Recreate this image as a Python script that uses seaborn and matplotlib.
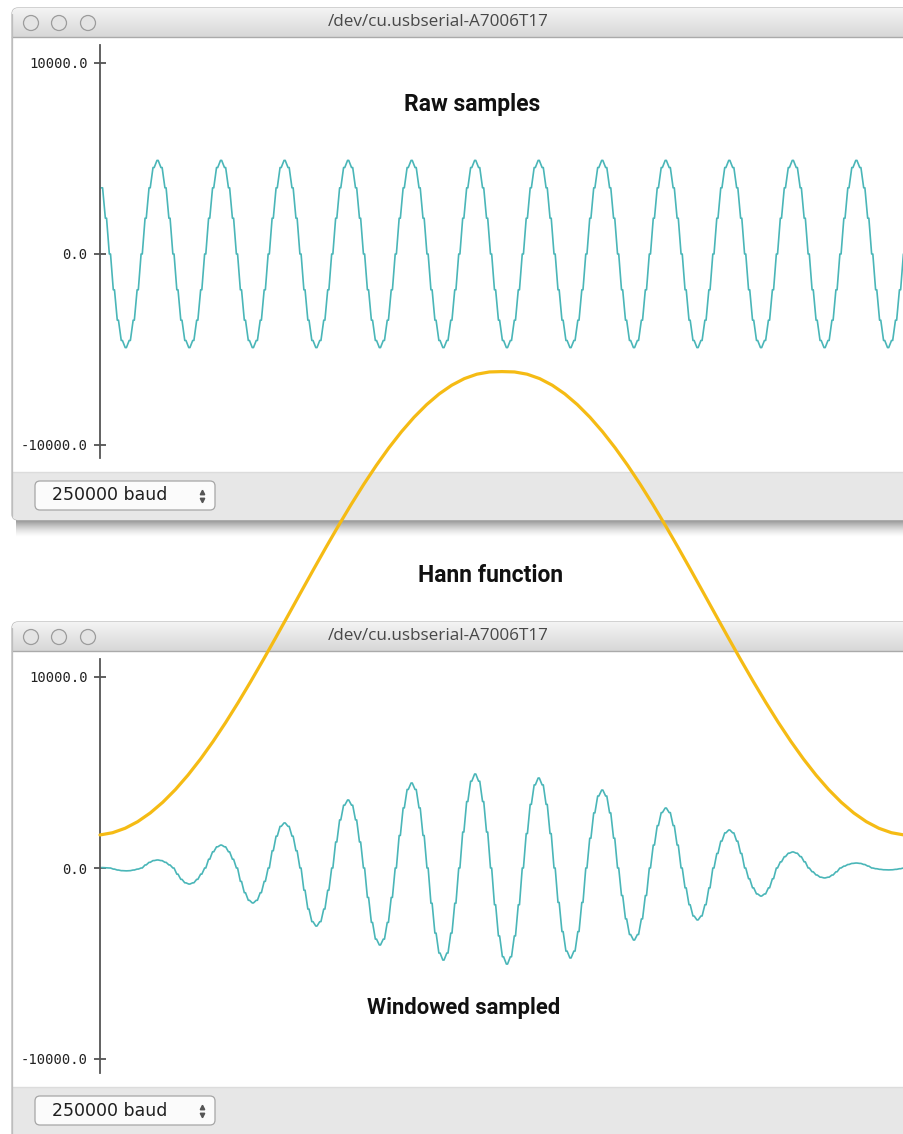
import matplotlib
matplotlib.use('Agg')
import matplotlib.pyplot as plt
from matplotlib.patches import FancyBboxPatch, Rectangle, Circle
import numpy as np
import pandas as pd
import seaborn as sns

# one period of the raw ADC signal (16 samples)
raw_cycle = [3465, 1875, 0, -1875, -3465, -4527, -4900, -4527,
             -3465, -1875, 0, 1875, 3465, 4527, 4900, 4527]
raw_amplitude = 4900
n_samples = 203

# height of each half wave of the windowed trace (bottom window)
windowed_peaks = [30, 150, 420, 840, 1200, 1830, 2360, 3040, 3560, 4030, 4450, 4820, 4920, 5030,
                  4710, 4710, 4080, 3770, 3140, 2720, 1990, 1470, 840, 520, 260, 100, 30]

# Hann window overlay, in bottom-plot units, left half (symmetric)
hann_left = [1730, 1847, 2080, 2426, 2882, 3444, 4106, 4862, 5704, 6625, 7615, 8666,
             9766, 10906, 12074, 13259, 14450, 15635, 16802, 17942, 19042, 20092, 21083,
             22003, 22844, 23600, 24260, 24822, 25277, 25622, 25854, 25971, 25990]
hann_values = hann_left + hann_left[-2::-1]

y_ticks = [10000, 0, -10000]
y_tick_labels = ['10000.0', '0.0', '-10000.0']
port_name = '/dev/cu.usbserial-A7006T17'
baud_label = '250000 baud'
headings = {'raw': 'Raw samples', 'hann': 'Hann function', 'windowed': 'Windowed sampled'}

TEAL = '#4ab6b8'
YELLOW = '#f5bb14'

sample_idx = np.arange(n_samples)
raw = np.array([raw_cycle[k % len(raw_cycle)] for k in sample_idx], dtype=float)
half_wave = np.array([0 if k < 2 else (k - 2) // 8 + 1 for k in sample_idx])
windowed = raw * np.array(windowed_peaks)[half_wave] / raw_amplitude

# each sample is held for a short moment, giving the plotter's notched look
pos = np.repeat(sample_idx, 2) + np.tile([-0.15, 0.15], n_samples)
df = pd.DataFrame({'sample': pos, 'raw': np.repeat(raw, 2), 'windowed': np.repeat(windowed, 2)})
hann_df = pd.DataFrame({'sample': np.linspace(-0.5, 202, len(hann_values)), 'hann': hann_values})

sns.set_theme(style='white')
plt.rcParams['font.family'] = ['DejaVu Sans']

W, H = 904, 1134
fig = plt.figure(figsize=(W / 100, H / 100), dpi=100)
fig.patch.set_facecolor('white')

bg = fig.add_axes([0, 0, 1, 1], zorder=-1)
bg.set_axis_off()


def draw_window(ax, top, bar_top, bottom):
    frame = FancyBboxPatch((12, top), 940, bottom - top, boxstyle='round,pad=0,rounding_size=6',
                           fc='white', ec='#b8b8b8', lw=0.9, zorder=2)
    ax.add_patch(frame)
    # shadow under the window
    shade = np.zeros((20, 1, 4))
    shade[..., 3] = (np.linspace(1.0, 0.0, 20) ** 1.5 * 0.42)[:, None]
    ax.imshow(shade, extent=[16, 960, bottom + 18, bottom], aspect='auto',
              interpolation='bilinear', zorder=1)
    # title bar gradient
    grad = np.linspace(0.955, 0.845, 30)[:, None, None] * np.ones((30, 1, 3))
    im = ax.imshow(grad, extent=[12, 960, top + 29, top], aspect='auto',
                   interpolation='bilinear', zorder=3)
    im.set_clip_path(frame)
    ax.plot([12, 960], [top + 29, top + 29], color='#aaaaaa', lw=1, zorder=4)
    for cx in (31, 59, 88):
        ax.add_patch(Circle((cx, top + 15), 7.5, fc='#e4e4e4', ec='#9c9c9c', lw=0.9, zorder=5))
    ax.text(438, top + 14, port_name, ha='center', va='center', fontsize=12.3,
            color='#484848', family=['Open Sans', 'DejaVu Sans'], zorder=5)
    # bottom bar
    bar = Rectangle((12, bar_top), 940, bottom - bar_top, fc='#e7e7e7', ec='none', zorder=3)
    ax.add_patch(bar)
    bar.set_clip_path(frame)
    ax.plot([12, 960], [bar_top, bar_top], color='#dcdcdc', lw=1, zorder=4)
    ax.plot([12.5, 12.5], [top + 6, bottom - 4], color='#bdbdbd', lw=0.9, zorder=4)
    ax.add_patch(FancyBboxPatch((35, bar_top + 9), 180, 29, boxstyle='round,pad=0,rounding_size=5',
                                fc='#fbfbfb', ec='#a6a6a6', lw=0.9, zorder=5))
    ax.text(110, bar_top + 23.5, baud_label, ha='center', va='center', fontsize=12.5,
            color='#1e1e1e', family=['DejaVu Sans'], zorder=6)
    ax.plot([202], [bar_top + 20], marker='^', ms=3.2, color='#555555', zorder=6)
    ax.plot([202], [bar_top + 27.5], marker='v', ms=3.2, color='#555555', zorder=6)


draw_window(bg, 8, 472, 520)
draw_window(bg, 622, 1087, 1150)

heading_font = ['Roboto', 'DejaVu Sans']
bg.text(472, 104, headings['raw'], ha='center', va='center', fontsize=16.5, fontweight='bold',
        color='#111111', family=heading_font, zorder=6)
bg.text(491, 575, headings['hann'], ha='center', va='center', fontsize=16.5, fontweight='bold',
        color='#111111', family=heading_font, zorder=6)
bg.text(464, 1008, headings['windowed'], ha='center', va='center', fontsize=15.8, fontweight='bold',
        color='#111111', family=heading_font, zorder=6)
bg.set_xlim(0, W)
bg.set_ylim(H, 0)

px = 20000 / 382.0  # data units per pixel in both plotters


def plot_axes(y_top, y_bottom, tick_top):
    ax = fig.add_axes([100 / W, 1 - y_bottom / H, 804 / W, (y_bottom - y_top) / H])
    ax.patch.set_alpha(0)
    ax.set_xlim(-0.5, 202)
    ax.set_ylim(-10000 - (y_bottom - (tick_top + 382)) * px, 10000 + (tick_top - y_top) * px)
    for side in ('top', 'right', 'bottom'):
        ax.spines[side].set_visible(False)
    ax.spines['left'].set_color('#555555')
    ax.spines['left'].set_linewidth(1.3)
    ax.set_xticks([])
    ax.set_yticks(y_ticks)
    ax.set_yticklabels(y_tick_labels, family='DejaVu Sans Mono', fontsize=10, color='#222222')
    ax.tick_params(axis='y', direction='inout', length=8, width=1.2, color='#444444', pad=5, left=True)
    return ax


ax_top = plot_axes(45, 458, 63)
sns.lineplot(data=df, x='sample', y='raw', ax=ax_top, color=TEAL, lw=1.2)
ax_top.set_xlabel('')
ax_top.set_ylabel('')

ax_bot = plot_axes(659, 1073, 677)
sns.lineplot(data=df, x='sample', y='windowed', ax=ax_bot, color=TEAL, lw=1.2)
sns.lineplot(data=hann_df, x='sample', y='hann', ax=ax_bot, color=YELLOW, lw=2.3, clip_on=False, zorder=10)
ax_bot.set_xlabel('')
ax_bot.set_ylabel('')

fig.savefig('out.png', dpi=100)
